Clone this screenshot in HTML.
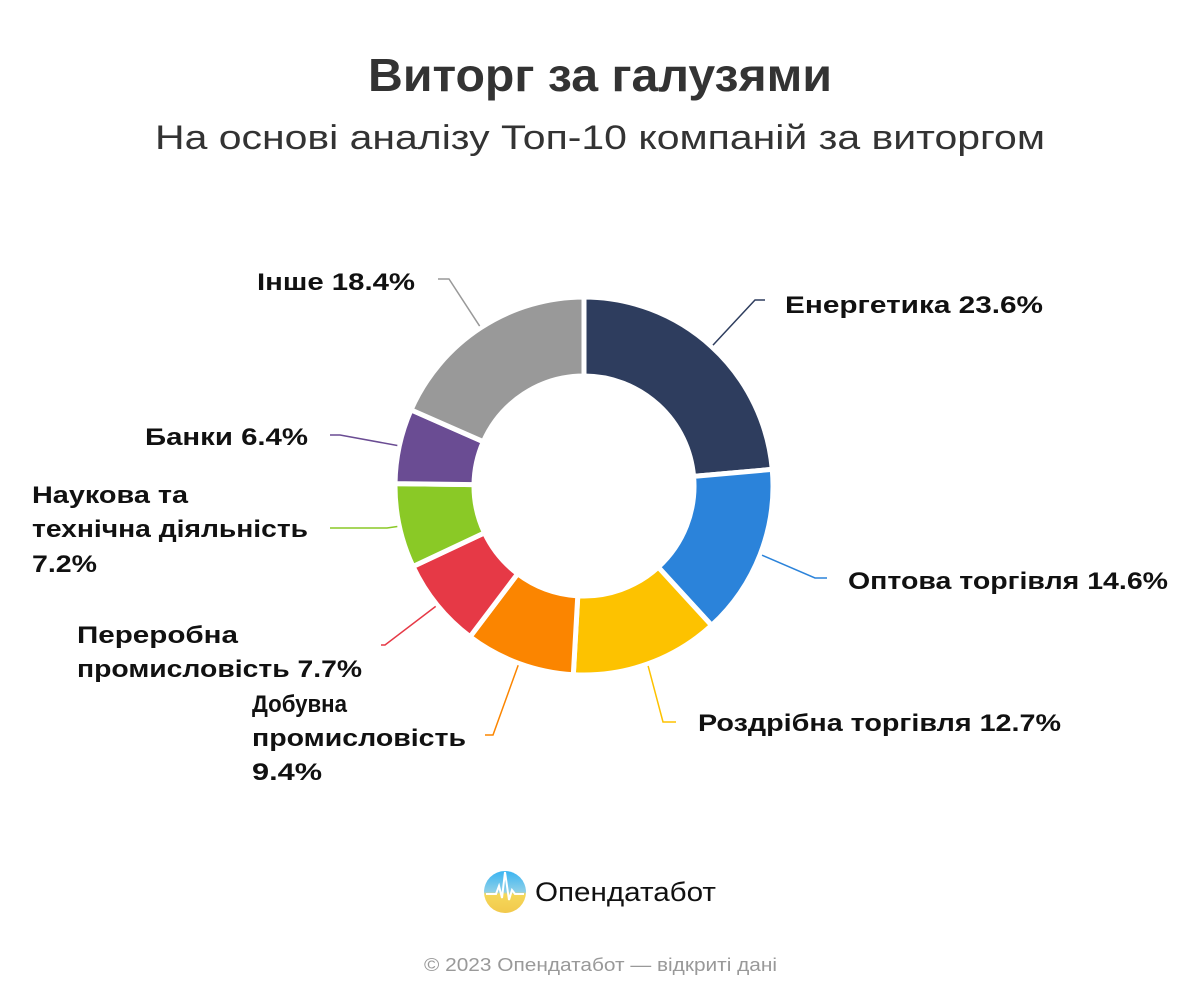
<!DOCTYPE html>
<html><head><meta charset="utf-8"><style>
body{margin:0;background:#fff;width:1200px;height:1000px;overflow:hidden;font-family:"Liberation Sans","DejaVu Sans",sans-serif}
svg text{font-family:"Liberation Sans","DejaVu Sans",sans-serif}
</style></head><body>
<svg id="chart" width="1200" height="1000">
<text x="368" y="91" font-size="46" font-weight="bold" fill="#333" textLength="464" lengthAdjust="spacingAndGlyphs">Виторг за галузями</text>
<text x="155" y="149" font-size="34" fill="#333" textLength="890" lengthAdjust="spacingAndGlyphs">На основі аналізу Топ-10 компаній за виторгом</text>
<g id="slices"></g>
<g id="leaders"></g>
<g font-size="24" font-weight="bold" fill="#111" lengthAdjust="spacingAndGlyphs">
<text x="785" y="313" textLength="258" lengthAdjust="spacingAndGlyphs">Енергетика 23.6%</text>
<text x="848" y="589" textLength="320" lengthAdjust="spacingAndGlyphs">Оптова торгівля 14.6%</text>
<text x="698" y="731" textLength="363" lengthAdjust="spacingAndGlyphs">Роздрібна торгівля 12.7%</text>
<g>
<text x="252" y="712" textLength="95" lengthAdjust="spacingAndGlyphs">Добувна</text>
<text x="252" y="746" textLength="214" lengthAdjust="spacingAndGlyphs">промисловість</text>
<text x="252" y="780" textLength="70" lengthAdjust="spacingAndGlyphs">9.4%</text></g>
<g>
<text x="77" y="643" textLength="161" lengthAdjust="spacingAndGlyphs">Переробна</text>
<text x="77" y="677" textLength="285" lengthAdjust="spacingAndGlyphs">промисловість 7.7%</text></g>
<g>
<text x="32" y="503" textLength="156" lengthAdjust="spacingAndGlyphs">Наукова та</text>
<text x="32" y="537" textLength="276" lengthAdjust="spacingAndGlyphs">технічна діяльність</text>
<text x="32" y="572" textLength="65" lengthAdjust="spacingAndGlyphs">7.2%</text></g>
<text x="145" y="445" textLength="163" lengthAdjust="spacingAndGlyphs">Банки 6.4%</text>
<text x="257" y="290" textLength="158" lengthAdjust="spacingAndGlyphs">Інше 18.4%</text>
</g>
<g>
<defs><linearGradient id="lg" x1="0" y1="0" x2="0" y2="1"><stop offset="0" stop-color="#3ab4f2"/><stop offset="0.5" stop-color="#8fd0e8"/><stop offset="0.55" stop-color="#f5d85a"/><stop offset="1" stop-color="#f2c94c"/></linearGradient></defs>
<circle cx="505" cy="892" r="21" fill="url(#lg)"/>
<polyline points="486,894 496,894 499,886 502,898 505,872 509,900 512,890 515,894 524,894" fill="none" stroke="#fff" stroke-width="2"/>
<text x="535" y="901" font-size="27" fill="#111" textLength="181" lengthAdjust="spacingAndGlyphs">Опендатабот</text>
</g>
<text x="424" y="971" font-size="18" fill="#999" textLength="353" lengthAdjust="spacingAndGlyphs">© 2023 Опендатабот — відкриті дані</text>
</svg>
<script>
const categories=["Енергетика","Оптова торгівля","Роздрібна торгівля","Добувна промисловість","Переробна промисловість","Наукова та технічна діяльність","Банки","Інше"];
const values=[23.6,14.6,12.7,9.4,7.7,7.2,6.4,18.4];
const colors=["#2e3d5e","#2b83da","#fdc200","#fb8500","#e63946","#8ac926","#6a4c93","#999999"];
const names=["energy","wholesale","retail","mining","processing","science","banks","other"];
const elbows=[[755,300,765],[815,578,827],[663,722,676],[493,735,485],[385,645,381],[387,528,330],[340,435,330],[449,279,438]];
const cx=584,cy=486,R=189,r=110,NS="http://www.w3.org/2000/svg";
const total=values.reduce((a,b)=>a+b,0);
function pt(a,rad){return [cx+rad*Math.sin(a),cy-rad*Math.cos(a)];}
let acc=0;
const gS=document.getElementById('slices'),gL=document.getElementById('leaders');
values.forEach((v,i)=>{
 const a0=acc/total*2*Math.PI,a1=(acc+v)/total*2*Math.PI;acc+=v;
 const large=(a1-a0)>Math.PI?1:0;
 const p0=pt(a0,R),p1=pt(a1,R),q1=pt(a1,r),q0=pt(a0,r);
 const p=document.createElementNS(NS,'path');
 p.setAttribute('d',`M${p0}A${R},${R} 0 ${large} 1 ${p1}L${q1}A${r},${r} 0 ${large} 0 ${q0}Z`);
 p.setAttribute('fill',colors[i]);p.setAttribute('stroke','#fff');p.setAttribute('stroke-width','5');p.setAttribute('stroke-linejoin','round');
 
 
 gS.appendChild(p);
 const m=pt((a0+a1)/2,R+2),e=elbows[i];
 const l=document.createElementNS(NS,'polyline');
 l.setAttribute('points',`${m} ${e[0]},${e[1]} ${e[2]},${e[1]}`);
 l.setAttribute('fill','none');l.setAttribute('stroke',colors[i]);l.setAttribute('stroke-width','1.5');
 
 
 gL.appendChild(l);
});
</script>
</body></html>
